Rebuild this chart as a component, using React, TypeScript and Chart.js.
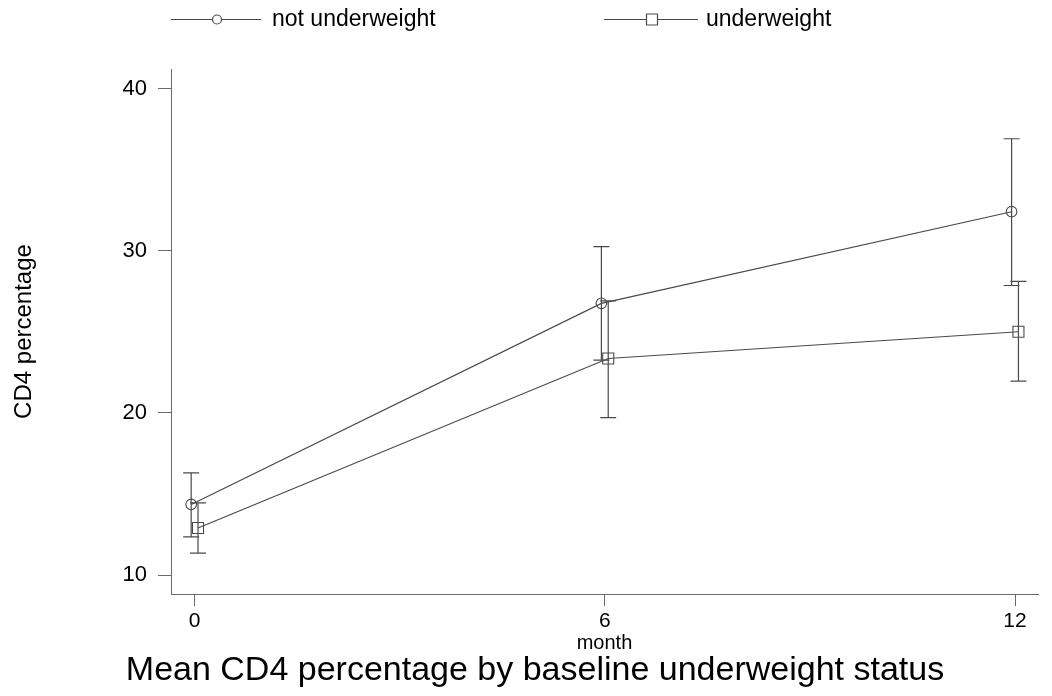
import React, { useEffect, useRef } from "react";
import { Chart, registerables } from "chart.js";

Chart.register(...registerables);

// ---- data ----
const months = [0, 6, 12];
const xTickValues = [0, 6, 12];
const yTickValues = [10, 20, 30, 40];
const seriesLabels = ["not underweight", "underweight"];
const notUnderweightMean = [14.35, 26.75, 32.4];
const notUnderweightLow = [12.35, 23.25, 27.85];
const notUnderweightHigh = [16.3, 30.25, 36.9];
const underweightMean = [12.9, 23.35, 25.0];
const underweightLow = [11.35, 19.7, 21.95];
const underweightHigh = [14.45, 26.9, 28.1];
const groupShift = [-0.05, 0.05];
const chartTitle = "Mean CD4 percentage by baseline underweight status";
const xAxisTitle = "month";
const yAxisTitle = "CD4 percentage";

const FONT = "'Liberation Sans', Arial, Helvetica, sans-serif";
const LINE = "#4a4a4a";
const AXIS = "#6a6a6a";

const errorBarPlugin = {
  id: "errorBars",
  beforeDatasetsDraw(chart: any) {
    const ctx = chart.ctx;
    const yScale = chart.scales.y;
    ctx.save();
    ctx.strokeStyle = LINE;
    ctx.lineWidth = 1.2;
    chart.data.datasets.forEach((ds: any, i: number) => {
      const meta = chart.getDatasetMeta(i);
      meta.data.forEach((pt: any, j: number) => {
        const x = pt.x;
        const yl = yScale.getPixelForValue(ds.low[j]);
        const yh = yScale.getPixelForValue(ds.high[j]);
        ctx.beginPath();
        ctx.moveTo(x, yl);
        ctx.lineTo(x, yh);
        ctx.moveTo(x - 8, yl);
        ctx.lineTo(x + 8, yl);
        ctx.moveTo(x - 8, yh);
        ctx.lineTo(x + 8, yh);
        ctx.stroke();
      });
    });
    ctx.restore();
  },
};

const legendTitlePlugin = {
  id: "stataLegendTitle",
  afterDraw(chart: any) {
    const ctx = chart.ctx;
    ctx.save();
    const items = [
      { x0: 171, x1: 261, mx: 217, tx: 272 },
      { x0: 604, x1: 698, mx: 652, tx: 706 },
    ];
    const ly = 19.5;
    chart.data.datasets.forEach((ds: any, i: number) => {
      const it = items[i];
      ctx.strokeStyle = LINE;
      ctx.lineWidth = 1.2;
      ctx.beginPath();
      ctx.moveTo(it.x0, ly);
      ctx.lineTo(it.x1, ly);
      ctx.stroke();
      ctx.fillStyle = "#fff";
      ctx.beginPath();
      if (ds.pointStyle === "circle") {
        ctx.arc(it.mx, ly, 4.5, 0, Math.PI * 2);
      } else {
        ctx.rect(it.mx - 5.5, ly - 5.5, 11, 11);
      }
      ctx.fill();
      ctx.stroke();
      ctx.fillStyle = "#000";
      ctx.font = `23px ${FONT}`;
      ctx.textBaseline = "middle";
      ctx.textAlign = "left";
      ctx.fillText(ds.label, it.tx, 19.5);
    });
    ctx.font = `34px ${FONT}`;
    ctx.textAlign = "center";
    ctx.textBaseline = "middle";
    ctx.fillStyle = "#000";
    ctx.fillText(chartTitle, 535, 671);
    ctx.restore();
  },
};

export default function App() {
  const ref = useRef<HTMLCanvasElement | null>(null);

  useEffect(() => {
    document.body.style.margin = "0";
    const canvas = ref.current;
    if (!canvas) return;
    const makeData = (mean: number[], k: number) =>
      months.map((m, i) => ({ x: m + groupShift[k], y: mean[i] }));

    const chart = new Chart(canvas, {
      type: "scatter",
      data: {
        datasets: [
          {
            label: seriesLabels[0],
            data: makeData(notUnderweightMean, 0),
            low: notUnderweightLow,
            high: notUnderweightHigh,
            showLine: true,
            borderColor: LINE,
            borderWidth: 1.2,
            pointStyle: "circle",
            pointRadius: 5.3,
            pointBorderWidth: 1.1,
            pointBorderColor: LINE,
            pointBackgroundColor: "rgba(0,0,0,0)",
          } as any,
          {
            label: seriesLabels[1],
            data: makeData(underweightMean, 1),
            low: underweightLow,
            high: underweightHigh,
            showLine: true,
            borderColor: LINE,
            borderWidth: 1.2,
            pointStyle: "rect",
            pointRadius: 7.8,
            pointBorderWidth: 1.1,
            pointBorderColor: LINE,
            pointBackgroundColor: "rgba(0,0,0,0)",
          } as any,
        ],
      },
      options: {
        animation: false,
        responsive: false,
        devicePixelRatio: 1,
        layout: { padding: { top: 69, right: 14, bottom: 0, left: 0 } },
        plugins: {
          legend: { display: false },
          title: { display: false },
          tooltip: { enabled: false },
        },
        scales: {
          x: {
            type: "linear",
            min: -0.345,
            max: 12.336,
            afterBuildTicks: (s: any) => {
              s.ticks = xTickValues.map((v) => ({ value: v }));
            },
            afterFit: (s: any) => {
              s.height = 102;
            },
            grid: {
              drawOnChartArea: false,
              drawTicks: true,
              tickLength: 12,
              color: AXIS,
              lineWidth: 1,
            },
            border: { display: true, color: AXIS, width: 1 },
            ticks: {
              color: "#000",
              font: { size: 21, family: FONT },
              padding: 3,
              maxRotation: 0,
              autoSkip: false,
            },
            title: {
              display: true,
              text: xAxisTitle,
              color: "#000",
              font: { size: 20, family: FONT },
              padding: { top: 0, bottom: 41 },
            },
          },
          y: {
            type: "linear",
            min: 8.83,
            max: 41.2,
            afterBuildTicks: (s: any) => {
              s.ticks = yTickValues.map((v) => ({ value: v }));
            },
            afterFit: (s: any) => {
              s.width = 171;
            },
            grid: {
              drawOnChartArea: false,
              drawTicks: true,
              tickLength: 13,
              color: AXIS,
              lineWidth: 1,
            },
            border: { display: true, color: AXIS, width: 1 },
            ticks: {
              color: "#000",
              font: { size: 22, family: FONT },
              padding: 11,
            },
            title: {
              display: true,
              text: yAxisTitle,
              color: "#000",
              font: { size: 24, family: FONT },
              padding: { top: 10, bottom: 0 },
            },
          },
        },
      } as any,
      plugins: [errorBarPlugin, legendTitlePlugin],
    });
    return () => chart.destroy();
  }, []);

  return (
    <canvas
      ref={ref}
      width={1052}
      height={696}
      style={{ display: "block", width: 1052, height: 696 }}
    />
  );
}
